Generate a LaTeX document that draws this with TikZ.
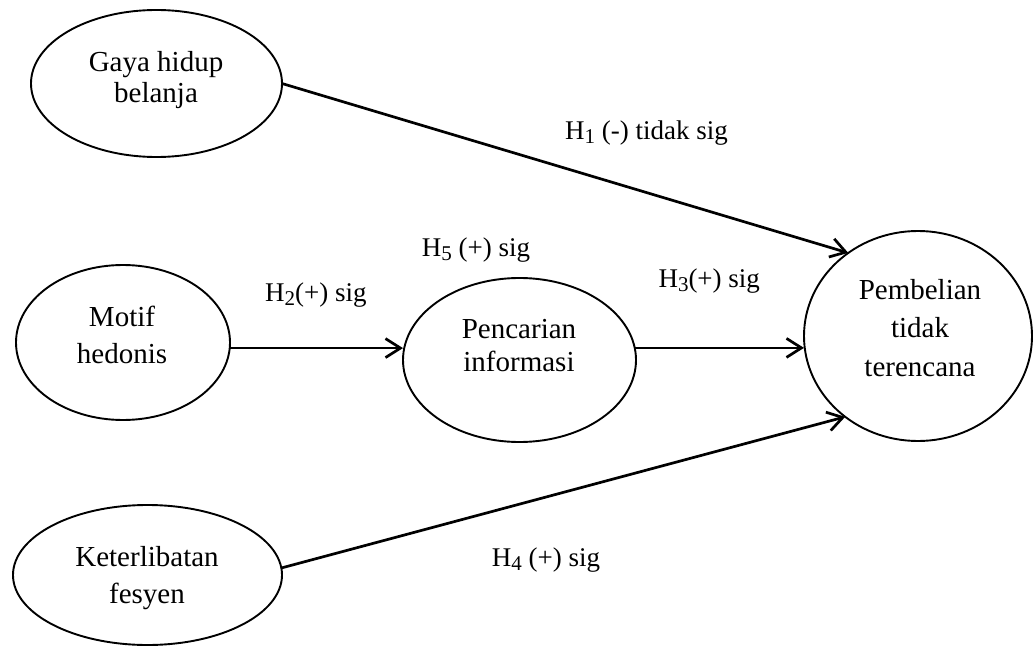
\documentclass[tikz,border=0pt]{standalone}
\usepackage{fontspec}
\setmainfont{Liberation Serif}
\usetikzlibrary{arrows.meta,shapes.geometric}
\newcommand{\hsub}[1]{\raisebox{-4pt}{\fontsize{21}{21}\selectfont #1}}
\begin{document}
\begin{tikzpicture}[x=1pt,y=-1pt,
  ell/.style={draw,ellipse,inner sep=0pt,outer sep=0pt,line width=1.9pt},
  lbl/.style={align=center,inner sep=0pt},
  hyp/.style={font=\fontsize{27}{30}\selectfont,anchor=base west,inner sep=0pt},
  arr/.style={line width=2.7pt,-{Straight Barb[length=15pt,width=19pt]}}]
\useasboundingbox (0,0) rectangle (1033,655);

% ellipses
\node[ell,minimum width=251pt,minimum height=147pt] (gaya) at (156.5,83.5) {};
\node[ell,minimum width=214pt,minimum height=155pt] (motif) at (123,342.5) {};
\node[ell,minimum width=269pt,minimum height=140pt] (keter) at (147.5,575) {};
\node[ell,minimum width=233pt,minimum height=164pt] (cari) at (519.5,360) {};
\node[ell,minimum width=228pt,minimum height=210pt] (beli) at (918,336) {};

% texts
\node[lbl,font=\fontsize{29}{31}\selectfont] (gayat) at (156,80) {Gaya hidup\\belanja};
\node[lbl,font=\fontsize{29}{37.3}\selectfont] (motift) at (122,335) {Motif\\hedonis};
\node[lbl,font=\fontsize{29}{37.3}\selectfont] (kettt) at (147,578) {Keterlibatan\\fesyen};
\node[lbl,font=\fontsize{29}{32.7}\selectfont] (carit) at (519,345.5) {Pencarian\\informasi};
\node[lbl,font=\fontsize{29}{38.5}\selectfont] (belit) at (920,328) {Pembelian\\tidak\\terencana};

% hypothesis labels
\node[hyp] (h1) at (565,139.3) {H\hsub{1} (-) tidak sig};
\node[hyp] (h5) at (421.7,256) {H\hsub{5} (+) sig};
\node[hyp] (h2) at (265,301.7) {H\hsub{2}(+) sig};
\node[hyp] (h3) at (658.3,287.3) {H\hsub{3}(+) sig};
\node[hyp] (h4) at (491.7,566) {H\hsub{4} (+) sig};

% connectors
\draw[arr] (gaya.east) -- (beli.130);
\draw[arr] (motif.-3) -- (motif.-3 -| cari.west);
\draw[arr] (cari.6) -- (cari.6 -| beli.west);
\draw[arr] (keter.3) -- (beli.228);
\end{tikzpicture}
\end{document}
